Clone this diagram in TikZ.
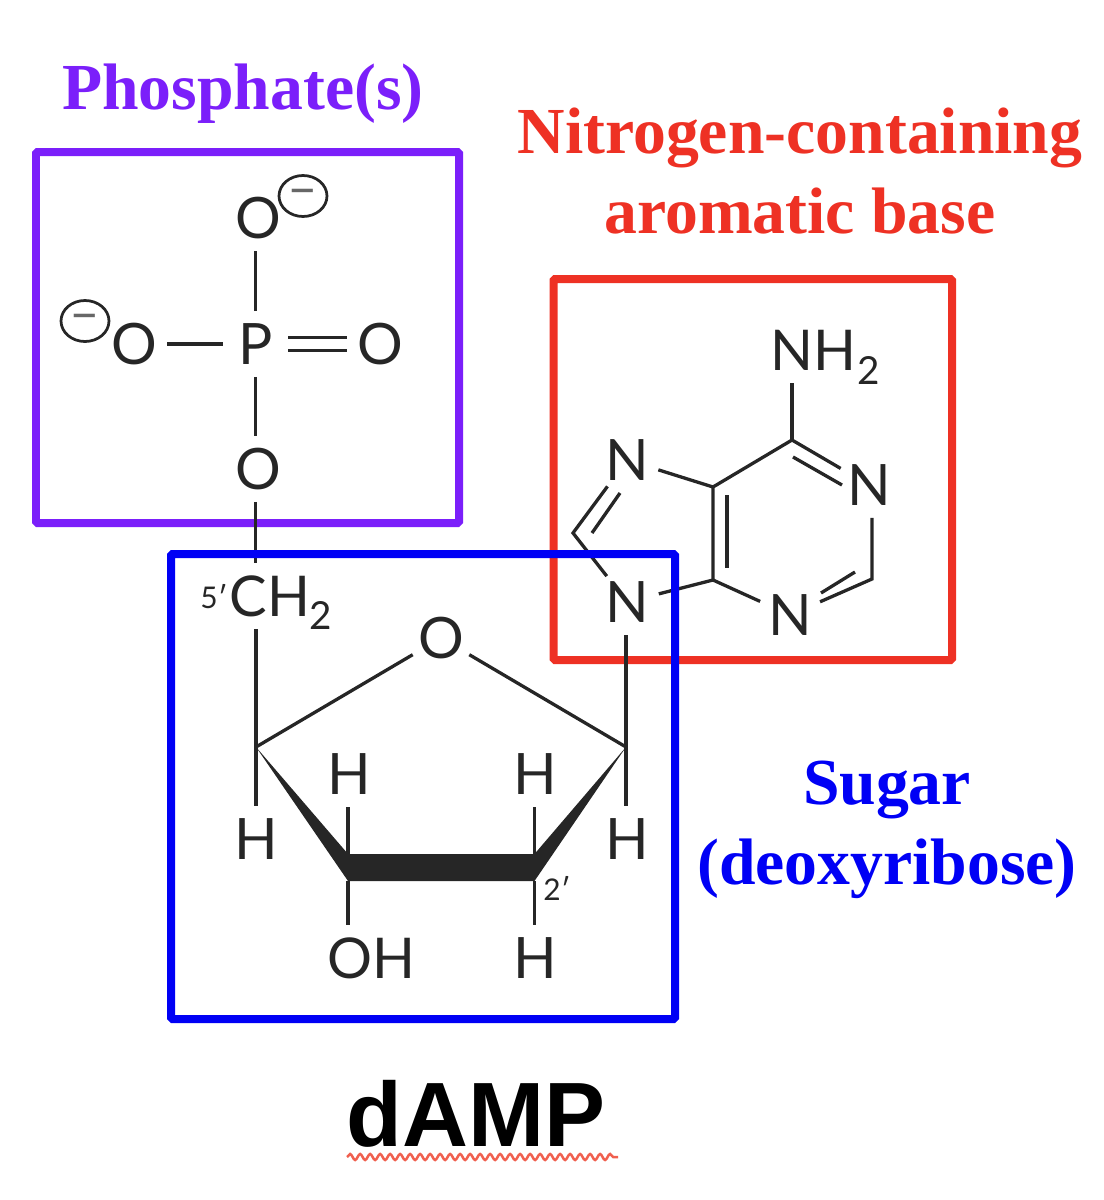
\documentclass[tikz,border=0pt]{standalone}
\usepackage{fontspec}
\usepackage{xcolor}
\usepackage{tikz}
\usetikzlibrary{shapes.geometric}
\usetikzlibrary{decorations.pathmorphing}
\setmainfont{Liberation Serif}
\newfontfamily\atomfont{Lato}
\newfontfamily\namefont{Liberation Sans}
\definecolor{phoscol}{HTML}{7B1FFA}
\definecolor{basecol}{HTML}{EE3124}
\definecolor{sugarcol}{HTML}{0000F5}
\definecolor{inkcol}{HTML}{262626}
\definecolor{squigcol}{HTML}{F0604F}
\tikzset{
  groupbox/.style={line width=0.16cm, rounded corners=0.03cm},
  bond/.style={inkcol, line width=0.066cm},
  atom/.style={circle, minimum size=1.3cm, inner sep=0pt, text=inkcol, font=\atomfont\fontsize{32.5}{38}\selectfont},
  wideatom/.style={rectangle, minimum height=1.32cm, inner sep=0pt, text=inkcol, font=\atomfont\fontsize{32}{38}\selectfont},
  subatom/.style={inner sep=0pt, text=inkcol, font=\atomfont\fontsize{22}{26}\selectfont},
  prime/.style={inner sep=0pt, text=inkcol, font=\atomfont\fontsize{17}{20}\selectfont},
  charge/.style={ellipse, draw=inkcol, line width=0.055cm, minimum width=0.96cm, minimum height=0.82cm, inner sep=0pt, text=inkcol!70, text height=12pt, text depth=0pt, font=\atomfont\fontsize{30}{36}\selectfont},
  title/.style={inner sep=0pt, align=center, font=\bfseries\fontsize{37.4}{45.5}\selectfont},
}
\begin{document}
\begin{tikzpicture}[x=0.02cm,y=-0.02cm]
\useasboundingbox (0,0) rectangle (1104,1200);

\draw [groupbox, phoscol] (36,152) rectangle (459,523);
\draw [groupbox, basecol] (553.5,279) rectangle (952,660);

% phosphate
\node [atom] (Otop) at (258,218) {O};
\node [atom] (Oleft) at (134,344) {O};
\node [atom] (P) at (255.5,344) {P};
\node [atom] (Oright) at (380,344) {O};
\node [atom] (Obot) at (258,469) {O};
\node [charge] (minusa) at (303,196) {–};
\node [charge] (minusb) at (85,321) {–};
\draw [bond] (P) -- (P |- Otop.south);
\draw [bond] (P) -- (Oleft);
\draw [bond, double, double distance=0.2cm] (P) -- (Oright);
\draw [bond] (P) -- (P |- Obot.north);

% base
\node [wideatom] (NHtxt) at (813,350) {NH};
\node [subatom] (NHsub) at (869,370) {2};
\node [atom] (Na) at (869,485) {N};
\node [atom] (Nc) at (790,615) {N};
\node [atom] (Ng) at (627,460) {N};
\node [atom] (Ni) at (627,602) {N};
\coordinate (c6) at (792,440);
\coordinate (c5) at (713,487);
\coordinate (c4) at (713,580);
\coordinate (c2) at (872,579);
\coordinate (c8) at (573,533);
\coordinate (ia) at (793,457);
\coordinate (ib) at (842,485);
\coordinate (ic) at (855,572);
\coordinate (id) at (821,593);
\coordinate (ie) at (727,495);
\coordinate (if) at (727,568);
\coordinate (ig) at (620,493);
\coordinate (ih) at (592,533);
\draw [bond] (c6) -- (c6 |- NHtxt.south);
\draw [bond] (c6) -- (Na);
\draw [bond] (ia) -- (ib);
\draw [bond] (c2 |- Na.south) -- (c2) -- (Nc);
\draw [bond] (ic) -- (id);
\draw [bond] (Nc) -- (c4) -- (c5) -- (c6);
\draw [bond] (ie) -- (if);
\draw [bond] (c5) -- (Ng) -- (c8) -- (Ni) -- (c4);
\draw [bond] (ig) -- (ih);

% sugar
\node [wideatom] (CH) at (270,596) {CH};
\node [subatom] (CHsub) at (321,615) {2};
\node [prime] (fivep) at (214,597) {5′};
\node [atom] (Oring) at (441,638) {O};
\node [atom] (Ha) at (256,839) {H};
\node [atom] (Hb) at (349,774) {H};
\node [atom] (Hc) at (535,774) {H};
\node [atom] (Hd) at (627,839) {H};
\node [wideatom] (OH) at (371,958) {OH};
\node [atom] (He) at (535,958) {H};
\node [prime] (twop) at (557,888) {2′};
\coordinate (ca) at (256,747);
\coordinate (cb) at (626,747);
\coordinate (cc) at (348,854);
\coordinate (cd) at (534.5,854);
\coordinate (ce) at (348,881);
\coordinate (cf) at (534.5,881);
\fill [inkcol] (ca) -- (cc) -- (cd) -- (cb) -- (cf) -- (ce) -- cycle;
\draw [bond] (P |- Obot.south) -- (P |- CH.north);
\draw [bond] (ca) -- (ca |- CH.south);
\draw [bond] (ca) -- (Oring) -- (cb);
\draw [bond] (cb) -- (cb |- Ni.south);
\draw [bond] (cb) -- (cb |- Hd.north);
\draw [bond] (ca) -- (Ha);
\draw [bond] (cc) -- (cc |- Hb.south);
\draw [bond] (cd) -- (cd |- Hc.south);
\draw [bond] (ce) -- (ce |- OH.north);
\draw [bond] (cf) -- (cf |- He.north);

\draw [groupbox, sugarcol] (171,554) rectangle (675,1019);

% labels
\node [title, phoscol] (phos) at (243,94) {Phosphate(s)};
\node [title, basecol] (base) at (800,171) {Nitrogen-containing\\aromatic base};
\node [title, sugarcol] (sugar) at (887,830) {Sugar\\(deoxyribose)};
\node [inner sep=0pt, font=\namefont\bfseries\fontsize{52}{60}\selectfont] (damp) at (476,1114) {dAMP};
\coordinate (squiga) at (347,1157);
\coordinate (squigb) at (618,1157);
\draw [squigcol, line width=0.05cm, decorate, decoration={snake, segment length=0.2cm, amplitude=0.06cm}] (squiga) -- (squigb);
\end{tikzpicture}
\end{document}
